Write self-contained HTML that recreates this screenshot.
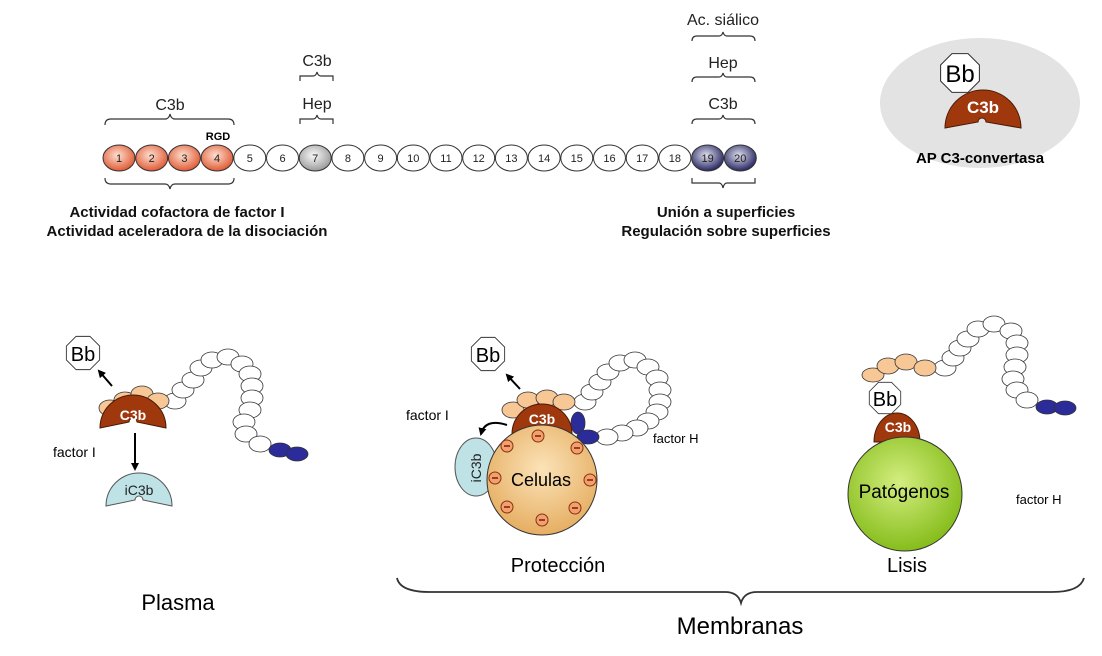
<!DOCTYPE html>
<html><head><meta charset="utf-8"><style>
body{margin:0;background:#fff}
svg{display:block;font-family:"Liberation Sans",Arial,sans-serif}
</style></head><body>
<svg width="1102" height="656" viewBox="0 0 1102 656" xmlns="http://www.w3.org/2000/svg">
<defs>
<radialGradient id="og" cx="45%" cy="40%" r="60%"><stop offset="0" stop-color="#fde0d0"/><stop offset="1" stop-color="#e05a35"/></radialGradient>
<radialGradient id="bg" cx="45%" cy="40%" r="60%"><stop offset="0" stop-color="#e0e0f0"/><stop offset="1" stop-color="#262660"/></radialGradient>
<radialGradient id="gg" cx="45%" cy="40%" r="60%"><stop offset="0" stop-color="#fafafa"/><stop offset="1" stop-color="#9a9a9a"/></radialGradient>
<radialGradient id="cell" cx="50%" cy="40%" r="60%"><stop offset="0" stop-color="#fbe3b8"/><stop offset="1" stop-color="#e6ae62"/></radialGradient>
<radialGradient id="green" cx="45%" cy="40%" r="60%"><stop offset="0" stop-color="#d4ee80"/><stop offset="1" stop-color="#86bd1c"/></radialGradient>
<polygon id="oct" points="0.924,0.383 0.383,0.924 -0.383,0.924 -0.924,0.383 -0.924,-0.383 -0.383,-0.924 0.383,-0.924 0.924,-0.383"/>
<marker id="ah" markerWidth="8" markerHeight="8" refX="6" refY="4" orient="auto" markerUnits="userSpaceOnUse"><path d="M0,0 L8,4 L0,8 Z" fill="#000"/></marker>
</defs>

<!-- top chain -->
<g stroke="#333" stroke-width="1" font-size="11" text-anchor="middle">
<ellipse cx="119" cy="158" rx="16" ry="13" fill="url(#og)"/>
<ellipse cx="151.7" cy="158" rx="16" ry="13" fill="url(#og)"/>
<ellipse cx="184.4" cy="158" rx="16" ry="13" fill="url(#og)"/>
<ellipse cx="217.1" cy="158" rx="16" ry="13" fill="url(#og)"/>
<ellipse cx="249.8" cy="158" rx="16" ry="13" fill="#fff"/>
<ellipse cx="282.5" cy="158" rx="16" ry="13" fill="#fff"/>
<ellipse cx="315.2" cy="158" rx="16" ry="13" fill="url(#gg)"/>
<ellipse cx="347.9" cy="158" rx="16" ry="13" fill="#fff"/>
<ellipse cx="380.6" cy="158" rx="16" ry="13" fill="#fff"/>
<ellipse cx="413.3" cy="158" rx="16" ry="13" fill="#fff"/>
<ellipse cx="446" cy="158" rx="16" ry="13" fill="#fff"/>
<ellipse cx="478.7" cy="158" rx="16" ry="13" fill="#fff"/>
<ellipse cx="511.4" cy="158" rx="16" ry="13" fill="#fff"/>
<ellipse cx="544.1" cy="158" rx="16" ry="13" fill="#fff"/>
<ellipse cx="576.8" cy="158" rx="16" ry="13" fill="#fff"/>
<ellipse cx="609.5" cy="158" rx="16" ry="13" fill="#fff"/>
<ellipse cx="642.2" cy="158" rx="16" ry="13" fill="#fff"/>
<ellipse cx="674.9" cy="158" rx="16" ry="13" fill="#fff"/>
<ellipse cx="707.6" cy="158" rx="16" ry="13" fill="url(#bg)"/>
<ellipse cx="740.3" cy="158" rx="16" ry="13" fill="url(#bg)"/>
</g>
<g font-size="11" text-anchor="middle" fill="#222">
<text x="119" y="162">1</text><text x="151.7" y="162">2</text><text x="184.4" y="162">3</text><text x="217.1" y="162">4</text>
<text x="249.8" y="162">5</text><text x="282.5" y="162">6</text><text x="315.2" y="162">7</text><text x="347.9" y="162">8</text>
<text x="380.6" y="162">9</text><text x="413.3" y="162">10</text><text x="446" y="162">11</text><text x="478.7" y="162">12</text>
<text x="511.4" y="162">13</text><text x="544.1" y="162">14</text><text x="576.8" y="162">15</text><text x="609.5" y="162">16</text>
<text x="642.2" y="162">17</text><text x="674.9" y="162">18</text><text x="707.6" y="162">19</text><text x="740.3" y="162">20</text>
</g>

<!-- braces -->
<g fill="none" stroke="#333" stroke-width="1.2">
<path d="M105,125 Q105,119 111,119 L165,119 Q169,119 170,114 Q171,119 175,119 L228,119 Q234,119 234,125"/>
<path d="M300,124 L300,119 L313,119 Q316,119 317,115 Q318,119 321,119 L333,119 L333,124"/>
<path d="M300,81 L300,76 L313,76 Q316,76 317,72 Q318,76 321,76 L333,76 L333,81"/>
<path d="M105,178 Q105,184 111,184 L165,184 Q169,184 170,189 Q171,184 175,184 L228,184 Q234,184 234,178"/>
<path d="M692,124 Q692,119 697,119 L719,119 Q722,119 723,115 Q724,119 727,119 L750,119 Q755,119 755,124"/>
<path d="M692,82 Q692,77 697,77 L719,77 Q722,77 723,73 Q724,77 727,77 L750,77 Q755,77 755,82"/>
<path d="M692,41 Q692,36 697,36 L719,36 Q722,36 723,32 Q724,36 727,36 L750,36 Q755,36 755,41"/>
<path d="M692,178 L692,183 L719,183 Q722,183 723,188 Q724,183 727,183 L755,183 L755,178"/>
<path d="M397,578 Q400,592 430,592 L725,592 Q738,592 741,603 Q744,592 757,592 L1052,592 Q1080,592 1084,578" stroke-width="1.8"/>
</g>
<g font-size="16" text-anchor="middle" fill="#222">
<text x="170" y="110">C3b</text>
<text x="317" y="109">Hep</text>
<text x="317" y="66">C3b</text>
<text x="723" y="109">C3b</text>
<text x="723" y="68">Hep</text>
<text x="723" y="25">Ac. siálico</text>
</g>
<text x="218" y="140" font-size="11" font-weight="bold" text-anchor="middle">RGD</text>
<g font-size="15" font-weight="bold" text-anchor="middle" fill="#111">
<text x="177" y="217">Actividad cofactora de factor I</text>
<text x="187" y="236">Actividad aceleradora de la disociación</text>
<text x="726" y="217">Unión a superficies</text>
<text x="726" y="236">Regulación sobre superficies</text>
</g>

<!-- AP convertase -->
<ellipse cx="980" cy="103" rx="100" ry="65" fill="#e3e3e3"/>
<path d="M945,128 A38,38 0 0 1 1021,128 L986,122 A4,4 0 0 0 978,122 Z" fill="#a0380e" stroke="#4a1a05"/>
<use href="#oct" transform="translate(960,73) scale(21)" fill="#fff" stroke="#333" stroke-width="0.05"/>
<text x="960" y="82" font-size="24" text-anchor="middle">Bb</text>
<text x="983" y="113" font-size="17" font-weight="bold" fill="#fff" text-anchor="middle">C3b</text>
<text x="980" y="163" font-size="15" font-weight="bold" text-anchor="middle">AP C3-convertasa</text>

<!-- Plasma panel -->
<g stroke="#333" stroke-width="0.8" fill="#fff">
<ellipse cx="175" cy="401" rx="11" ry="8"/><ellipse cx="183" cy="390" rx="11" ry="8"/><ellipse cx="193" cy="380" rx="11" ry="8"/>
<ellipse cx="201" cy="368" rx="11" ry="8"/><ellipse cx="212" cy="360" rx="11" ry="8"/><ellipse cx="228" cy="357" rx="11" ry="8"/>
<ellipse cx="242" cy="364" rx="11" ry="8"/><ellipse cx="250" cy="374" rx="11" ry="8"/><ellipse cx="252" cy="386" rx="11" ry="8"/>
<ellipse cx="252" cy="398" rx="11" ry="8"/><ellipse cx="250" cy="410" rx="11" ry="8"/><ellipse cx="244" cy="422" rx="11" ry="8"/>
<ellipse cx="246" cy="434" rx="11" ry="8"/><ellipse cx="260" cy="444" rx="11" ry="8"/>
<ellipse cx="280" cy="450" rx="11" ry="7" fill="#2b2b9a"/><ellipse cx="297" cy="454" rx="11" ry="7" fill="#2b2b9a"/>
<ellipse cx="110" cy="408" rx="11" ry="8" fill="#f8c796"/><ellipse cx="125" cy="400" rx="11" ry="8" fill="#f8c796"/>
<ellipse cx="142" cy="394" rx="11" ry="8" fill="#f8c796"/><ellipse cx="158" cy="401" rx="11" ry="8" fill="#f8c796"/>
</g>
<path d="M100,428 A33,33 0 0 1 166,428 L137,422 A4,4 0 0 0 129,422 Z" fill="#a0380e" stroke="#4a1a05"/>
<text x="133" y="420" font-size="14" font-weight="bold" fill="#fff" text-anchor="middle">C3b</text>
<use href="#oct" transform="translate(83,353) scale(18)" fill="#fff" stroke="#333" stroke-width="0.05"/>
<text x="83" y="361" font-size="20" text-anchor="middle">Bb</text>
<line x1="112" y1="386" x2="99" y2="371" stroke="#000" stroke-width="2" marker-end="url(#ah)"/>
<line x1="135" y1="433" x2="135" y2="469" stroke="#000" stroke-width="2" marker-end="url(#ah)"/>
<text x="53" y="457" font-size="14">factor I</text>
<path d="M106,506 A33,33 0 0 1 172,506 L143,500 A4,4 0 0 0 135,500 Z" fill="#bfe2e6" stroke="#555"/>
<text x="139" y="495" font-size="14" text-anchor="middle" fill="#222">iC3b</text>
<text x="178" y="610" font-size="22" text-anchor="middle">Plasma</text>

<!-- Protección panel -->
<g stroke="#333" stroke-width="0.8" fill="#fff">
<ellipse cx="585" cy="402" rx="11" ry="8"/><ellipse cx="592" cy="392" rx="11" ry="8"/><ellipse cx="600" cy="382" rx="11" ry="8"/>
<ellipse cx="608" cy="372" rx="11" ry="8"/><ellipse cx="620" cy="363" rx="11" ry="8"/><ellipse cx="635" cy="360" rx="11" ry="8"/>
<ellipse cx="648" cy="367" rx="11" ry="8"/><ellipse cx="657" cy="378" rx="11" ry="8"/><ellipse cx="660" cy="390" rx="11" ry="8"/>
<ellipse cx="660" cy="402" rx="11" ry="8"/><ellipse cx="657" cy="412" rx="11" ry="8"/><ellipse cx="648" cy="421" rx="11" ry="8"/>
<ellipse cx="637" cy="428" rx="11" ry="8"/><ellipse cx="622" cy="433" rx="11" ry="8"/><ellipse cx="607" cy="437" rx="11" ry="8"/>
<ellipse cx="578" cy="423" rx="7" ry="11" fill="#2b2b9a"/><ellipse cx="588" cy="437" rx="11" ry="7" fill="#2b2b9a"/>
<ellipse cx="513" cy="410" rx="11" ry="8" fill="#f8c796"/><ellipse cx="528" cy="400" rx="11" ry="8" fill="#f8c796"/>
<ellipse cx="547" cy="398" rx="11" ry="8" fill="#f8c796"/><ellipse cx="564" cy="402" rx="11" ry="8" fill="#f8c796"/>
</g>
<ellipse cx="476" cy="467" rx="21" ry="29" fill="#bfe2e6" stroke="#555"/>
<text x="0" y="0" font-size="14" fill="#222" text-anchor="middle" transform="translate(481,468) rotate(-90)">iC3b</text>
<path d="M512,434 A30,30 0 0 1 572,434 Z" fill="#a0380e" stroke="#4a1a05"/>
<text x="542" y="424" font-size="14" font-weight="bold" fill="#fff" text-anchor="middle">C3b</text>
<circle cx="542" cy="480" r="55" fill="url(#cell)" stroke="#333"/>
<g fill="#f2a070" stroke="#8a3010" stroke-width="1">
<circle cx="538" cy="436" r="6"/><circle cx="507" cy="446" r="6"/><circle cx="577" cy="448" r="6"/>
<circle cx="495" cy="478" r="6"/><circle cx="590" cy="480" r="6"/><circle cx="507" cy="507" r="6"/>
<circle cx="575" cy="508" r="6"/><circle cx="542" cy="520" r="6"/>
</g>
<g stroke="#7a2000" stroke-width="1.5">
<line x1="535" y1="436" x2="541" y2="436"/><line x1="504" y1="446" x2="510" y2="446"/><line x1="574" y1="448" x2="580" y2="448"/>
<line x1="492" y1="478" x2="498" y2="478"/><line x1="587" y1="480" x2="593" y2="480"/><line x1="504" y1="507" x2="510" y2="507"/>
<line x1="572" y1="508" x2="578" y2="508"/><line x1="539" y1="520" x2="545" y2="520"/>
</g>
<text x="541" y="486" font-size="18" text-anchor="middle">Celulas</text>
<use href="#oct" transform="translate(488,354) scale(18)" fill="#fff" stroke="#333" stroke-width="0.05"/>
<text x="488" y="362" font-size="20" text-anchor="middle">Bb</text>
<line x1="520" y1="389" x2="507" y2="375" stroke="#000" stroke-width="2" marker-end="url(#ah)"/>
<path d="M507,425 Q485,418 481,434" fill="none" stroke="#000" stroke-width="2" marker-end="url(#ah)"/>
<text x="406" y="420" font-size="14">factor I</text>
<text x="653" y="443" font-size="13">factor H</text>
<text x="558" y="572" font-size="20" text-anchor="middle">Protección</text>

<!-- Lisis panel -->
<g stroke="#333" stroke-width="0.8" fill="#fff">
<ellipse cx="945" cy="368" rx="11" ry="8"/><ellipse cx="953" cy="358" rx="11" ry="8"/><ellipse cx="960" cy="348" rx="11" ry="8"/>
<ellipse cx="968" cy="339" rx="11" ry="8"/><ellipse cx="978" cy="329" rx="11" ry="8"/><ellipse cx="994" cy="324" rx="11" ry="8"/>
<ellipse cx="1011" cy="331" rx="11" ry="8"/><ellipse cx="1017" cy="343" rx="11" ry="8"/><ellipse cx="1017" cy="355" rx="11" ry="8"/>
<ellipse cx="1015" cy="367" rx="11" ry="8"/><ellipse cx="1013" cy="379" rx="11" ry="8"/><ellipse cx="1017" cy="390" rx="11" ry="8"/>
<ellipse cx="1027" cy="400" rx="11" ry="8"/>
<ellipse cx="1047" cy="407" rx="11" ry="7" fill="#2b2b9a"/><ellipse cx="1065" cy="408" rx="11" ry="7" fill="#2b2b9a"/>
<ellipse cx="873" cy="375" rx="11" ry="7" fill="#f8c796"/><ellipse cx="888" cy="366" rx="11" ry="8" fill="#f8c796"/>
<ellipse cx="906" cy="362" rx="11" ry="8" fill="#f8c796"/><ellipse cx="925" cy="368" rx="11" ry="8" fill="#f8c796"/>
</g>
<path d="M874,442 A23,29 0 0 1 920,442 Z" fill="#a0380e" stroke="#4a1a05"/>
<text x="898" y="432" font-size="14" font-weight="bold" fill="#fff" text-anchor="middle">C3b</text>
<circle cx="905" cy="494" r="57" fill="url(#green)" stroke="#333"/>
<text x="904" y="498" font-size="19" text-anchor="middle">Patógenos</text>
<use href="#oct" transform="translate(885,398) scale(17)" fill="#fff" stroke="#333" stroke-width="0.05"/>
<text x="885" y="406" font-size="20" text-anchor="middle">Bb</text>
<text x="1016" y="504" font-size="13">factor H</text>
<text x="907" y="572" font-size="20" text-anchor="middle">Lisis</text>
<text x="740" y="634" font-size="24" text-anchor="middle">Membranas</text>
</svg>
</body></html>
